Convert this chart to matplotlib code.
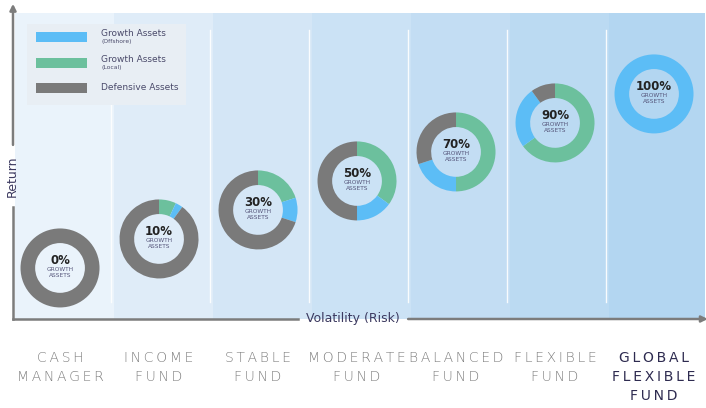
import matplotlib.pyplot as plt
import numpy as np
from matplotlib.lines import Line2D
from matplotlib.patches import Rectangle
from matplotlib.transforms import Affine2D

# fund data, ordered from lowest to highest risk
funds = ["CASH\nMANAGER", "INCOME\nFUND", "STABLE\nFUND", "MODERATE\nFUND",
         "BALANCED\nFUND", "FLEXIBLE\nFUND", "GLOBAL\nFLEXIBLE\nFUND"]
risk_rank = [0, 1, 2, 3, 4, 5, 6]
growth_pct = [0, 10, 30, 50, 70, 90, 100]
growth_local = [0, 7, 20, 35, 50, 65, 0]
growth_offshore = [0, 3, 10, 15, 20, 25, 100]
defensive = [100, 90, 70, 50, 30, 10, 0]

legend_labels = [("Growth Assets", "(Offshore)"), ("Growth Assets", "(Local)"),
                 ("Defensive Assets", "")]

BLUE = "#5CBDF6"
GREEN = "#6CC09D"
GREY = "#7A7A7A"
NAVY = "#3C3A60"
AXIS = "#7C7C7C"
col_colors = ["#EAF3FB", "#DFECF8", "#D4E6F6", "#CBE2F5",
              "#C3DDF3", "#BBDAF2", "#B3D6F1"]

W, H = 706, 408
fig = plt.figure(figsize=(W / 100, H / 100), dpi=100)
# pixel transform (origin top-left) for the hand-placed legend
px = Affine2D().scale(1 / W, -1 / H).translate(0, 1) + fig.transFigure

ax = fig.add_axes([13 / W, (H - 319) / H, 692 / W, 306 / H])
ax.set_xlim(-0.475, 6.515)
ax.set_ylim(-1.76, 8.79)
for s in ax.spines.values():
    s.set_visible(False)
ax.set_xticks([])
ax.set_yticks([])

# column backgrounds and white separators
for i, c in zip(risk_rank, col_colors):
    ax.axvspan(i - 0.45, i + 0.55, color=c, lw=0, zorder=0)
for i in risk_rank[:-1]:
    ax.axvline(i + 0.51, ymin=0.056, ymax=0.944, color="white", lw=1.0,
               alpha=0.9, zorder=1)

# axes drawn by hand so the labels can sit in gaps
ax.add_line(Line2D([0, 0], [0, 0.366], transform=ax.transAxes, color=AXIS,
                   lw=1.8, clip_on=False))
ax.annotate("", xy=(0, 1.03), xytext=(0, 0.569), xycoords="axes fraction",
            arrowprops=dict(arrowstyle="-|>", color=AXIS, lw=1.8, mutation_scale=9,
                            shrinkA=0, shrinkB=0))
ax.add_line(Line2D([0, 0.412], [0, 0], transform=ax.transAxes, color=AXIS,
                   lw=1.8, clip_on=False))
ax.annotate("", xy=(1.004, 0), xytext=(0.571, 0), xycoords="axes fraction",
            arrowprops=dict(arrowstyle="-|>", color=AXIS, lw=1.8, mutation_scale=9,
                            shrinkA=0, shrinkB=0))
ax.text(0.491, 0.002, "Volatility (Risk)", transform=ax.transAxes, ha="center",
        va="center", fontsize=9, color=NAVY)
ax.text(-0.0015, 0.468, "Return", transform=ax.transAxes, ha="center",
        va="center", rotation=90, fontsize=9, color=NAVY)

# category labels under the axis, letter spaced; the last fund is highlighted
for i, name in zip(risk_rank, funds):
    last = i == risk_rank[-1]
    spaced = "\n".join("\u2009".join(line) for line in name.split("\n"))
    ax.text(i, -0.105, spaced, transform=ax.get_xaxis_transform(), ha="center",
            va="top", fontsize=10, linespacing=1.45,
            fontweight="normal" if last else "light",
            color="#2E2B50" if last else "#7E7E7E")


def donut_box(x, y, r_px):
    cx, cy = ax.transData.transform((x, y))
    inv = ax.transData.inverted()
    x0, y0 = inv.transform((cx - r_px, cy - r_px))
    x1, y1 = inv.transform((cx + r_px, cy + r_px))
    return [x0, y0, x1 - x0, y1 - y0]


for i, g, loc, off, dfn in zip(risk_rank, growth_pct, growth_local,
                               growth_offshore, defensive):
    sub = ax.inset_axes(donut_box(i, i, 39.5), transform=ax.transData)
    sub.pie([loc, off, dfn], colors=[GREEN, BLUE, GREY], startangle=90,
            counterclock=False, radius=1,
            wedgeprops=dict(width=0.37, linewidth=0))
    sub.set_xlim(-1, 1)
    sub.set_ylim(-1, 1)
    sub.axis("off")
    sub.text(0, 0.19, f"{g}%", ha="center", va="center", fontsize=8.5,
             fontweight="bold", color="#222222",
             family=["Liberation Sans Narrow", "DejaVu Sans"])
    sub.text(0, -0.04, "GROWTH", ha="center", va="center", fontsize=4.2,
             color="#55557A")
    sub.text(0, -0.2, "ASSETS", ha="center", va="center", fontsize=4.2,
             color="#55557A")

# legend box
fig.patches.append(Rectangle((27, 24), 159, 81, transform=px, facecolor="#E8EEF4",
                             edgecolor="none", zorder=3))
for (main, small), c, yy in zip(legend_labels, [BLUE, GREEN, GREY], [32, 58, 83]):
    fig.patches.append(Rectangle((36, yy), 51, 10, transform=px, facecolor=c,
                                 edgecolor="none", zorder=4))
    if small:
        fig.text(101, yy + 2, main, transform=px, fontsize=6.5, color="#4A4A6A",
                 va="center", zorder=5)
        fig.text(101, yy + 9, small, transform=px, fontsize=4.3, color="#4A4A6A",
                 va="center", zorder=5)
    else:
        fig.text(101, yy + 5, main, transform=px, fontsize=6.5, color="#4A4A6A",
                 va="center", zorder=5)

fig.savefig("out.png", dpi=100)
